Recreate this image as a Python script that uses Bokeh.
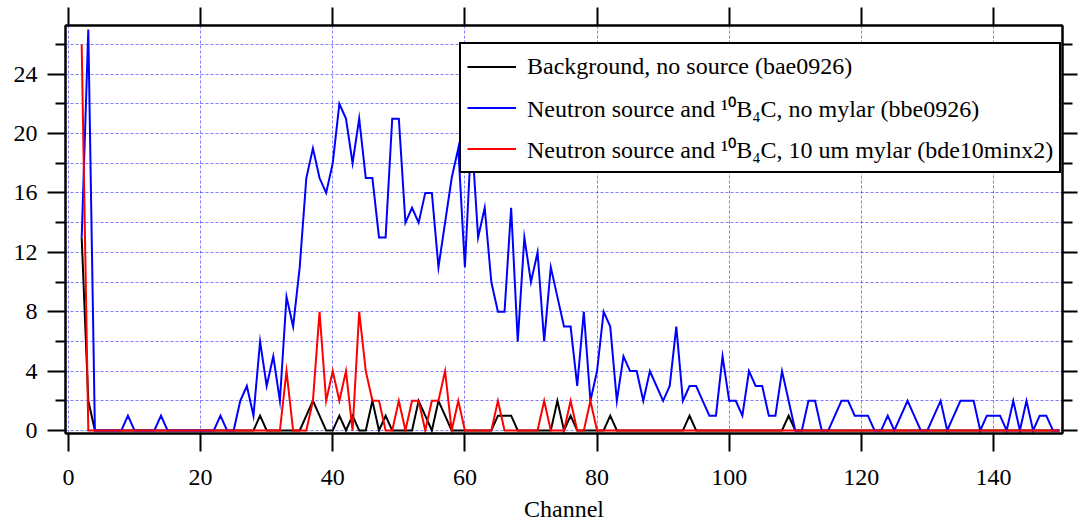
from bokeh.plotting import figure
from bokeh.models import Range1d, LinearAxis, FixedTicker, Legend, LegendItem, CustomJSTickFormatter
from bokeh.embed import file_html
from bokeh.resources import INLINE

# ---- data (channel 2 .. 150) ----
channels = list(range(2, 151))

background = [
    13, 2, 0, 0, 0, 0, 0, 0, 0, 0,
    0, 0, 0, 0, 0, 0, 0, 0, 0, 0,
    0, 0, 0, 0, 0, 0, 0, 1, 0, 0,
    0, 0, 0, 0, 1, 2, 1, 0, 0, 1,
    0, 1, 0, 0, 2, 0, 1, 0, 0, 0,
    0, 2, 1, 0, 2, 1, 0, 0, 0, 0,
    0, 0, 0, 1, 1, 1, 0, 0, 0, 0,
    0, 0, 2, 0, 1, 0, 0, 0, 0, 0,
    1, 0, 0, 0, 0, 0, 0, 0, 0, 0,
    0, 0, 1, 0, 0, 0, 0, 0, 0, 0,
    0, 0, 0, 0, 0, 0, 0, 1, 0, 0,
    0, 0, 0, 0, 0, 0, 0, 0, 0, 0,
    0, 0, 0, 0, 0, 0, 0, 0, 0, 0,
    0, 0, 0, 0, 0, 0, 0, 0, 0, 0,
    0, 0, 0, 0, 0, 0, 0, 0, 0,
]

no_mylar = [
    13, 27, 0, 0, 0, 0, 0, 1, 0, 0,
    0, 0, 1, 0, 0, 0, 0, 0, 0, 0,
    0, 1, 0, 0, 2, 3, 1, 6, 3, 5,
    2, 9, 7, 11, 17, 19, 17, 16, 18, 22,
    21, 18, 21, 17, 17, 13, 13, 21, 21, 14,
    15, 14, 16, 16, 11, 14, 17, 19, 11, 20,
    13, 15, 10, 8, 8, 15, 6, 13, 10, 12,
    6, 11, 9, 7, 7, 3, 8, 2, 4, 8,
    7, 2, 5, 4, 4, 2, 4, 3, 2, 3,
    7, 2, 3, 3, 2, 1, 1, 5, 2, 2,
    1, 4, 3, 3, 1, 1, 4, 2, 0, 0,
    2, 2, 0, 0, 1, 2, 2, 1, 1, 1,
    0, 0, 1, 0, 1, 2, 1, 0, 0, 1,
    2, 0, 1, 2, 2, 2, 0, 1, 1, 1,
    0, 2, 0, 2, 0, 1, 1, 0, 0,
]

mylar_10um = [
    26, 0, 0, 0, 0, 0, 0, 0, 0, 0,
    0, 0, 0, 0, 0, 0, 0, 0, 0, 0,
    0, 0, 0, 0, 0, 0, 0, 0, 0, 0,
    0, 4, 0, 0, 0, 2, 8, 2, 4, 2,
    4, 0, 8, 4, 2, 2, 0, 0, 2, 0,
    2, 2, 0, 2, 2, 4, 0, 2, 0, 0,
    0, 0, 0, 2, 0, 0, 0, 0, 0, 0,
    2, 0, 0, 0, 2, 0, 0, 2, 0, 0,
] + [0] * 69

labels = [
    "Background, no source (bae0926)",
    "Neutron source and \u00b9\u2070B\u2084C, no mylar (bbe0926)",
    "Neutron source and \u00b9\u2070B\u2084C, 10 um mylar (bde10minx2)",
]

x_ticks = [0, 20, 40, 60, 80, 100, 120, 140]
y_major = [0, 4, 8, 12, 16, 20, 24]
y_minor = [2, 6, 10, 14, 18, 22, 26]
y_grid = [0, 2, 4, 6, 8, 10, 12, 14, 16, 18, 20, 22, 24, 26]

FONT = "Liberation Serif"

p = figure(
    width=1078, height=525,
    output_backend="svg", toolbar_location=None,
    x_range=Range1d(-0.45, 150.45), y_range=Range1d(-0.2, 27.27),
    min_border_left=65, min_border_right=16, min_border_top=25, min_border_bottom=92,
    x_axis_label="Channel",
)
p.background_fill_color = "white"
p.border_fill_color = "white"
p.outline_line_color = "black"
p.outline_line_width = 2

# bottom axis
xa = p.xaxis[0]
xa.ticker = FixedTicker(ticks=x_ticks, minor_ticks=[])
xa.major_tick_out = 18
xa.major_tick_in = 0
xa.minor_tick_out = 0
xa.minor_tick_in = 0
xa.major_label_standoff = 18
xa.axis_line_width = 2
xa.major_tick_line_width = 2
xa.major_label_text_font = FONT
xa.major_label_text_font_size = "24px"
xa.major_label_text_color = "black"
xa.axis_label_text_font = FONT
xa.axis_label_text_font_size = "24px"
xa.axis_label_text_font_style = "normal"
xa.axis_label_text_color = "black"
xa.axis_label_standoff = 8

# left axis
ya = p.yaxis[0]
ya.ticker = FixedTicker(ticks=y_major, minor_ticks=y_minor)
ya.major_tick_out = 18
ya.major_tick_in = 0
ya.minor_tick_out = 10
ya.minor_tick_in = 0
ya.major_label_standoff = 10
ya.axis_line_width = 2
ya.major_tick_line_width = 2
ya.minor_tick_line_width = 2
ya.major_label_text_font = FONT
ya.major_label_text_font_size = "24px"
ya.major_label_text_color = "black"

blank = CustomJSTickFormatter(code="return ''")

# top axis (ticks only)
top = LinearAxis(ticker=FixedTicker(ticks=x_ticks, minor_ticks=[]), formatter=blank)
top.major_tick_out = 18
top.major_tick_in = 0
top.minor_tick_out = 0
top.minor_tick_in = 0
top.major_label_standoff = 0
top.major_label_text_font_size = "1px"
top.major_label_text_color = None
top.axis_line_width = 2
top.major_tick_line_width = 2
p.add_layout(top, "above")

# right axis (ticks only)
right = LinearAxis(ticker=FixedTicker(ticks=y_major, minor_ticks=y_minor), formatter=blank)
right.major_tick_out = 15
right.major_tick_in = 0
right.minor_tick_out = 10
right.minor_tick_in = 0
right.major_label_standoff = 0
right.major_label_text_font_size = "1px"
right.major_label_text_color = None
right.axis_line_width = 2
right.major_tick_line_width = 2
right.minor_tick_line_width = 2
p.add_layout(right, "right")

# grids
p.xgrid.ticker = FixedTicker(ticks=x_ticks)
p.ygrid.ticker = FixedTicker(ticks=y_grid)
for g in (p.xgrid[0], p.ygrid[0]):
    g.grid_line_color = "#0000ff"
    g.grid_line_alpha = 0.5
    g.grid_line_width = 1
    g.grid_line_dash = "3 2"

# series
r_bg = p.line(channels, background, line_color="black", line_width=2, line_join="miter")
r_nm = p.line(channels, no_mylar, line_color="#0000ff", line_width=2, line_join="miter")
r_my = p.line(channels, mylar_10um, line_color="#ff0000", line_width=2, line_join="miter")

legend = Legend(
    items=[
        LegendItem(label=labels[0], renderers=[r_bg]),
        LegendItem(label=labels[1], renderers=[r_nm]),
        LegendItem(label=labels[2], renderers=[r_my]),
    ],
    location=(394, 260),
    glyph_width=49, glyph_height=33, label_height=33,
    label_standoff=11, spacing=8, padding=6, margin=0,
    border_line_color="black", border_line_width=2, border_line_alpha=1,
    background_fill_color="white", background_fill_alpha=1,
    label_text_font=FONT, label_text_font_size="24px", label_text_color="black",
)
p.add_layout(legend, "center")

open("out.html", "w").write(file_html(p, INLINE))
